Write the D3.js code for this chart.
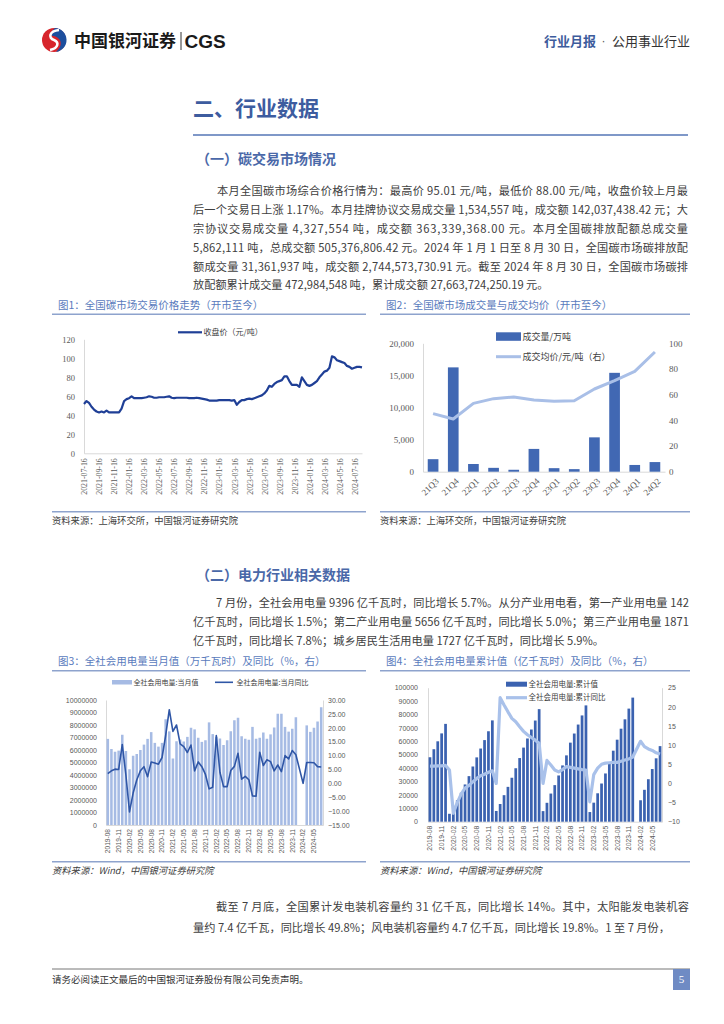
<!DOCTYPE html>
<html><head><meta charset="utf-8">
<script src="https://cdn.jsdelivr.net/npm/d3@7"></script>
<style>body{margin:0;background:#fff}</style>
</head><body>
<svg id="page" width="724" height="1024"></svg>
<script>
// ---------------- DATA ----------------
const para1 = [
 "本月全国碳市场综合价格行情为：最高价 95.01 元/吨，最低价 88.00 元/吨，收盘价较上月最",
 "后一个交易日上涨 1.17%。本月挂牌协议交易成交量 1,534,557 吨，成交额 142,037,438.42 元；大",
 "宗协议交易成交量 4,327,554 吨，成交额 363,339,368.00 元。本月全国碳排放配额总成交量",
 "5,862,111 吨，总成交额 505,376,806.42 元。2024 年 1 月 1 日至 8 月 30 日，全国碳市场碳排放配",
 "额成交量 31,361,937 吨，成交额 2,744,573,730.91 元。截至 2024 年 8 月 30 日，全国碳市场碳排",
 "放配额累计成交量 472,984,548 吨，累计成交额 27,663,724,250.19 元。"
];
const para2 = [
 "7 月份，全社会用电量 9396 亿千瓦时，同比增长 5.7%。从分产业用电看，第一产业用电量 142",
 "亿千瓦时，同比增长 1.5%；第二产业用电量 5656 亿千瓦时，同比增长 5.0%；第三产业用电量 1871",
 "亿千瓦时，同比增长 7.8%；城乡居民生活用电量 1727 亿千瓦时，同比增长 5.9%。"
];
const para3 = [
 "截至 7 月底，全国累计发电装机容量约 31 亿千瓦，同比增长 14%。其中，太阳能发电装机容",
 "量约 7.4 亿千瓦，同比增长 49.8%；风电装机容量约 4.7 亿千瓦，同比增长 19.8%。1 至 7 月份，"
];

// Chart 1: closing price (yuan/t), evenly spaced samples
const c1TickLabels = ["2021-07-16","2021-09-16","2021-11-16","2022-01-16","2022-03-16","2022-05-16","2022-07-16","2022-09-16","2022-11-16","2023-01-16","2023-03-16","2023-05-16","2023-07-16","2023-09-16","2023-11-16","2024-01-16","2024-03-16","2024-05-16","2024-07-16"];
const c1Price = [52,55,53,49,46,44,43,44,43,45,43,43, 43,43,43,47,55,57, 58,60,58,58,58,58, 58.5,59,60,59.5,58.5,58.5, 59,59,59,59.5,60,58.5, 58,58.5,58.5,58.5,58.5,58.5, 58,58,58,58.5,58,57.5, 57,56.5,55.5,55.5,55.5,55.5, 56,56,56,56,56,55.5, 56,51,54,56,56,57, 57.5,57,58,59,60,61, 63,66,71,70,73,75, 76,77,81,81,76,72, 72,72,70,80,76,72, 71,72,74,76,80,83, 86,87,90,102,101,98, 97,96,95,92,91,89, 90,91,91,90.5];
const c1YTicks = [0,20,40,60,80,100,120];

// Chart 2
const c2Quarters = ["21Q3","21Q4","22Q1","22Q2","22Q3","22Q4","23Q1","23Q2","23Q3","23Q4","24Q1","24Q2"];
const c2Volume = [1950,16250,1200,600,300,3550,550,400,5350,15400,1050,1500];
const c2AvgPrice = [45.2,41.0,53.2,56.9,58.2,55.8,54.8,55.3,64.4,70.9,78.2,93.2];
const c2LeftTicks = [0,5000,10000,15000,20000];
const c2RightTicks = [0,20,40,60,80,100];

// Charts 3 & 4: months
const months = ["2019-08","2019-09","2019-10","2019-11","2019-12",
 "2020-01","2020-02","2020-03","2020-04","2020-05","2020-06","2020-07","2020-08","2020-09","2020-10","2020-11","2020-12",
 "2021-01","2021-02","2021-03","2021-04","2021-05","2021-06","2021-07","2021-08","2021-09","2021-10","2021-11","2021-12",
 "2022-01","2022-02","2022-03","2022-04","2022-05","2022-06","2022-07","2022-08","2022-09","2022-10","2022-11","2022-12",
 "2023-01","2023-02","2023-03","2023-04","2023-05","2023-06","2023-07","2023-08","2023-09","2023-10","2023-11","2023-12",
 "2024-01","2024-02","2024-03","2024-04","2024-05","2024-06","2024-07"];
const monthTickLabels = ["2019-08","2019-11","2020-02","2020-05","2020-08","2020-11","2021-02","2021-05","2021-08","2021-11","2022-02","2022-05","2022-08","2022-11","2023-02","2023-05","2023-08","2023-11","2024-02","2024-05"];

const c3Value = [6890000,6080000,5860000,5950000,7220000,
 5920000,4460000,5540000,5680000,6000000,6430000,6890000,7430000,6570000,6270000,6570000,8460000,
 7490000,5320000,6700000,6840000,6680000,7050000,7780000,7650000,6980000,6650000,6780000,8210000,
 7270000,7050000,6920000,6400000,6780000,7500000,8380000,8580000,7100000,6900000,6820000,7850000,
 6900000,6980000,7400000,6900000,7250000,7800000,8900000,8900000,7850000,7470000,7700000,8620000,
 null,null,7970000,7450000,7780000,8280000,9420000];
const c3Yoy = [3.5,4.5,5.1,5.0,14.0,
 3.0,-10.3,-3.5,1.2,4.5,6.0,2.4,7.7,7.3,6.9,9.3,17.3,
 26.5,18.7,21.0,14.2,13.2,11.1,13.8,4.5,7.7,6.0,3.2,-2.0,
 -1.4,17.2,4.0,-1.2,-1.2,4.6,6.1,10.8,1.5,2.5,1.3,-4.5,
 -4.6,11.2,6.4,8.5,7.8,4.5,6.6,4.2,10.0,8.8,11.8,10.3,
 null,0.0,7.5,7.5,7.4,6.0,5.9];
const c3LeftTicks = [0,1000000,2000000,3000000,4000000,5000000,6000000,7000000,8000000,9000000,10000000];
const c3RightTicks = [-15,-10,-5,0,5,10,15,20,25,30];

const c4Value = [48100,54100,60000,65900,73000,
 5900,10400,16000,21600,27800,34000,41200,48000,54600,60900,67500,75600,
 8000,13200,19800,26000,32800,39900,47500,55300,62100,68800,75500,84000,
 7900,14100,21000,27300,34500,42000,49500,59000,65800,72500,79300,86800,
 7200,14200,21200,28500,36000,43400,53000,61200,69400,76400,84400,92600,
 null,16000,23800,31700,39300,47300,56400];
const c4Yoy = [4.5,4.5,4.6,4.6,4.7,
 3.5,-7.8,-5.0,-2.8,-1.2,-0.5,0.4,1.3,2.0,2.4,2.9,3.3,
 0.0,22.4,20.5,18.7,17.0,16.1,14.8,13.6,12.7,12.0,11.3,10.5,
 0.0,6.0,4.8,3.5,3.0,3.6,4.4,4.2,4.0,3.8,3.6,3.5,
 -4.8,2.3,4.0,5.0,5.3,5.4,5.5,5.5,5.8,6.1,6.4,6.9,
 null,11.0,9.6,9.0,8.6,8.0,7.7];
const c4LeftTicks = [0,10000,20000,30000,40000,50000,60000,70000,80000,90000,100000];
const c4RightTicks = [-10,-5,0,5,10,15,20,25];

// ---------------- DRAWING ----------------
const CJK = "'Noto Sans CJK SC','Noto Sans',sans-serif";
const SERIF = "'Liberation Serif','DejaVu Serif',serif";
const SANS = "'Liberation Sans','DejaVu Sans',sans-serif";
const svg = d3.select("#page");
svg.append("rect").attr("width",724).attr("height",1024).attr("fill","#fff");

function txt(g, x, y, s, size, fill, opts={}) {
  const t = g.append("text").attr("x",x).attr("y",y).attr("dy","0.35em")
    .attr("font-family", opts.family || CJK).attr("font-size", size)
    .attr("fill", fill).text(s);
  if (opts.weight) t.attr("font-weight", opts.weight);
  if (opts.anchor) t.attr("text-anchor", opts.anchor);
  if (opts.style) t.attr("font-style", opts.style);
  return t;
}

// Header logo
const logo = svg.append("g").attr("transform","translate(54,40)");
logo.append("circle").attr("r",12).attr("fill","#d7252c");
logo.append("path").attr("d","M1,-12 A12,12 0 0,1 2,11.9 C12,3 4,-4 -1,-4 C-4,-4 -3,-9 1,-12 Z").attr("fill","#1d4f9e");
logo.append("path").attr("d","M5,-10 C-5,-9 -6,-2 0,0 C5,2 5,8 -4,10").attr("fill","none").attr("stroke","#fff").attr("stroke-width",2.6);
txt(svg, 74, 41, "中国银河证券", 17, "#1a1a1a", {weight:700});
svg.append("line").attr("x1",181).attr("x2",181).attr("y1",32).attr("y2",50).attr("stroke","#333").attr("stroke-width",1);
txt(svg, 184.5, 41.5, "CGS", 19, "#1a1a1a", {weight:700, family:SANS});
txt(svg, 544, 41, "行业月报", 13, "#3d5c9c", {weight:700});
txt(svg, 603.5, 41, "·", 12, "#555", {anchor:"middle", family:SANS});
txt(svg, 612, 41, "公用事业行业", 13, "#333");

// Title
txt(svg, 193, 109, "二、行业数据", 21, "#3d5c9f", {weight:700});
svg.append("line").attr("x1",193).attr("x2",688).attr("y1",135).attr("y2",135).attr("stroke","#7f98c8").attr("stroke-width",2);

function paragraph(lines, x0, xIndent, xEnd, y0, dy, size) {
  lines.forEach((s,i)=>{
    const x = i===0 ? xIndent : x0;
    const t = txt(svg, x, y0 + i*dy, s, size, "#404040");
    if (i < lines.length-1) t.attr("textLength", xEnd - x).attr("lengthAdjust","spacing");
  });
}

txt(svg, 196, 159.5, "（一）碳交易市场情况", 14, "#4a68a8", {weight:700});
paragraph(para1, 193, 217, 688, 191.5, 18.8, 11.2);

txt(svg, 196, 575, "（二）电力行业相关数据", 14, "#4a68a8", {weight:700});
paragraph(para2, 193, 216, 689, 602.7, 19.2, 11.2);

paragraph(para3, 193, 216, 689, 907, 21.5, 11.2);

// Footer
svg.append("line").attr("x1",52).attr("x2",690).attr("y1",969).attr("y2",969).attr("stroke","#777").attr("stroke-width",1);
txt(svg, 52, 980, "请务必阅读正文最后的中国银河证券股份有限公司免责声明。", 9.5, "#333");
svg.append("rect").attr("x",673).attr("y",969).attr("width",17).attr("height",21).attr("fill","#6f8bc4");
txt(svg, 681.5, 979.5, "5", 11, "#fff", {anchor:"middle", family:SERIF});

// Chart frames
function frame(x1, x2, yTitle, yTop, yBot, title, source, italic) {
  txt(svg, x1+6, yTitle, title, 10.5, "#5a7bbd");
  svg.append("line").attr("x1",x1).attr("x2",x2).attr("y1",yTop).attr("y2",yTop).attr("stroke","#8ea3cd").attr("stroke-width",1.4);
  svg.append("line").attr("x1",x1).attr("x2",x2).attr("y1",yBot).attr("y2",yBot).attr("stroke","#8ea3cd").attr("stroke-width",1.4);
  txt(svg, x1, yBot+9.5, source, 9.3, "#404040", italic ? {style:"italic"} : {});
}
frame(52, 366, 305, 314.3, 511.7, "图1：全国碳市场交易价格走势（开市至今）", "资料来源：上海环交所，中国银河证券研究院");
frame(380, 690, 305, 314.3, 511.7, "图2：全国碳市场成交量与成交均价（开市至今）", "资料来源：上海环交所，中国银河证券研究院");
frame(52, 366, 661, 670.7, 861.7, "图3：全社会用电量当月值（万千瓦时）及同比（%，右）", "资料来源：Wind，中国银河证券研究院", true);
frame(380, 690, 661, 670.7, 861.7, "图4：全社会用电量累计值（亿千瓦时）及同比（%，右）", "资料来源：Wind，中国银河证券研究院", true);

function styleAxis(g, family, size, domainColor) {
  g.selectAll("text").attr("font-family", family).attr("font-size", size).attr("fill","#595959");
  g.select(".domain").attr("stroke", domainColor || "#d9d9d9");
  g.selectAll(".tick line").remove();
}

// ---- Chart 1 ----
{
  const x = d3.scaleLinear().domain([0, c1Price.length-1]).range([84, 362]);
  const y = d3.scaleLinear().domain([0,120]).range([453.3, 339.3]);
  const ga = svg.append("g").attr("transform","translate(84,0)")
    .call(d3.axisLeft(y).tickValues(c1YTicks).tickSize(0).tickPadding(9));
  styleAxis(ga, SERIF, 8.5);
  const gb = svg.append("g").attr("transform","translate(0,453.3)")
    .call(d3.axisBottom(x).tickValues(c1TickLabels.map((d,i)=>i*6)).tickFormat(v=>c1TickLabels[v/6]).tickSize(0));
  styleAxis(gb, SERIF, 7.8);
  gb.selectAll("text").attr("transform","rotate(-90)").attr("text-anchor","end").attr("x",-5).attr("y",0).attr("dy","0.35em");
  svg.append("path").datum(c1Price).attr("fill","none").attr("stroke","#1f3f96").attr("stroke-width",2.2)
    .attr("stroke-linejoin","round")
    .attr("d", d3.line().x((d,i)=>x(i)).y(d=>y(d)));
  svg.append("line").attr("x1",178).attr("x2",202).attr("y1",332.3).attr("y2",332.3).attr("stroke","#1f3f96").attr("stroke-width",2.2);
  txt(svg, 203.5, 332.3, "收盘价（元/吨）", 8, "#404040");
}

// ---- Chart 2 ----
{
  const x = d3.scaleBand().domain(c2Quarters).range([423, 665]).paddingInner(0.47).paddingOuter(0.235);
  const yL = d3.scaleLinear().domain([0,20000]).range([471.7, 343.3]);
  const yR = d3.scaleLinear().domain([0,100]).range([471.7, 343.3]);
  const ga = svg.append("g").attr("transform","translate(423,0)")
    .call(d3.axisLeft(yL).tickValues(c2LeftTicks).tickFormat(d3.format(",")).tickSize(0).tickPadding(9));
  styleAxis(ga, SERIF, 9);
  const gr = svg.append("g").attr("transform","translate(665,0)")
    .call(d3.axisRight(yR).tickValues(c2RightTicks).tickSize(0).tickPadding(4));
  styleAxis(gr, SERIF, 9, "none");
  const gb = svg.append("g").attr("transform","translate(0,471.7)")
    .call(d3.axisBottom(x).tickSize(0));
  styleAxis(gb, SERIF, 9);
  gb.selectAll("text").attr("transform","translate(4,8) rotate(-45)").attr("text-anchor","end").attr("x",0).attr("y",0).attr("dy","0.35em");
  svg.append("g").selectAll("rect").data(c2Quarters).join("rect")
    .attr("x", d=>x(d)).attr("width", x.bandwidth())
    .attr("y", (d,i)=>yL(c2Volume[i])).attr("height", (d,i)=>yL(0)-yL(c2Volume[i]))
    .attr("fill","#4168b3");
  svg.append("path").datum(c2AvgPrice).attr("fill","none").attr("stroke","#a9bfe7").attr("stroke-width",3)
    .attr("stroke-linejoin","round")
    .attr("d", d3.line().x((d,i)=>x(c2Quarters[i])+x.bandwidth()/2).y(d=>yR(d)));
  svg.append("rect").attr("x",496).attr("y",332.3).attr("width",25).attr("height",8.5).attr("fill","#4168b3");
  txt(svg, 522.5, 336.5, "成交量/万吨", 9, "#404040");
  svg.append("line").attr("x1",496).attr("x2",521).attr("y1",356.7).attr("y2",356.7).attr("stroke","#a9bfe7").attr("stroke-width",3);
  txt(svg, 522.5, 356.7, "成交均价/元/吨（右）", 9, "#404040");
}

// ---- Chart 3 ----
{
  const x = d3.scaleBand().domain(months).range([106, 323]).paddingInner(0.3).paddingOuter(0.15);
  const yL = d3.scaleLinear().domain([0,10000000]).range([825, 700]);
  const yR = d3.scaleLinear().domain([-15,30]).range([825, 700]);
  const ga = svg.append("g").attr("transform","translate(106,0)")
    .call(d3.axisLeft(yL).tickValues(c3LeftTicks).tickFormat(d3.format("d")).tickSize(0).tickPadding(9));
  styleAxis(ga, SANS, 7);
  const gr = svg.append("g").attr("transform","translate(323,0)")
    .call(d3.axisRight(yR).tickValues(c3RightTicks).tickFormat(d3.format(".2f")).tickSize(0).tickPadding(5));
  styleAxis(gr, SANS, 7);
  const gb = svg.append("g").attr("transform","translate(0,825)")
    .call(d3.axisBottom(x).tickValues(monthTickLabels).tickSize(0));
  styleAxis(gb, SANS, 6.6);
  gb.selectAll("text").attr("transform","rotate(-90)").attr("text-anchor","end").attr("x",-4).attr("y",0).attr("dy","0.35em");
  const idx = months.map((m,i)=>i).filter(i=>c3Value[i]!=null);
  svg.append("g").selectAll("rect").data(idx).join("rect")
    .attr("x", i=>x(months[i])).attr("width", x.bandwidth())
    .attr("y", i=>yL(c3Value[i])).attr("height", i=>yL(0)-yL(c3Value[i]))
    .attr("fill","#a6bbe4");
  const li = months.map((m,i)=>i).filter(i=>c3Yoy[i]!=null);
  svg.append("path").datum(li).attr("fill","none").attr("stroke","#2f56a6").attr("stroke-width",1.6)
    .attr("stroke-linejoin","round")
    .attr("d", d3.line().x(i=>x(months[i])+x.bandwidth()/2).y(i=>yR(c3Yoy[i])));
  svg.append("rect").attr("x",112).attr("y",680).attr("width",20).attr("height",4.5).attr("fill","#a6bbe4");
  txt(svg, 133.5, 682.3, "全社会用电量:当月值", 7, "#404040");
  svg.append("line").attr("x1",215).attr("x2",233).attr("y1",682.3).attr("y2",682.3).attr("stroke","#2f56a6").attr("stroke-width",1.6);
  txt(svg, 236.5, 682.3, "全社会用电量:当月同比", 7, "#404040");
}

// ---- Chart 4 ----
{
  const x = d3.scaleBand().domain(months).range([428, 662]).paddingInner(0.3).paddingOuter(0.15);
  const yL = d3.scaleLinear().domain([0,100000]).range([821.7, 687.7]);
  const yR = d3.scaleLinear().domain([-10,25]).range([821.7, 687.7]);
  const ga = svg.append("g").attr("transform","translate(428,0)")
    .call(d3.axisLeft(yL).tickValues(c4LeftTicks).tickFormat(d3.format("d")).tickSize(0).tickPadding(10));
  styleAxis(ga, SANS, 7);
  const gr = svg.append("g").attr("transform","translate(662,0)")
    .call(d3.axisRight(yR).tickValues(c4RightTicks).tickFormat(d3.format("d")).tickSize(0).tickPadding(6));
  styleAxis(gr, SANS, 7);
  const gb = svg.append("g").attr("transform","translate(0,821.7)")
    .call(d3.axisBottom(x).tickValues(monthTickLabels).tickSize(0));
  styleAxis(gb, SANS, 6.8);
  gb.selectAll("text").attr("transform","rotate(-90)").attr("text-anchor","end").attr("x",-4).attr("y",0).attr("dy","0.35em");
  const idx = months.map((m,i)=>i).filter(i=>c4Value[i]!=null);
  svg.append("g").selectAll("rect").data(idx).join("rect")
    .attr("x", i=>x(months[i])).attr("width", x.bandwidth())
    .attr("y", i=>yL(c4Value[i])).attr("height", i=>yL(0)-yL(c4Value[i]))
    .attr("fill","#3b62b0");
  const li = months.map((m,i)=>i).filter(i=>c4Yoy[i]!=null);
  svg.append("path").datum(li).attr("fill","none").attr("stroke","#a9c1ea").attr("stroke-width",3.2)
    .attr("stroke-linejoin","round")
    .attr("d", d3.line().x(i=>x(months[i])+x.bandwidth()/2).y(i=>yR(c4Yoy[i])));
  svg.append("rect").attr("x",506).attr("y",681.7).attr("width",21).attr("height",5).attr("fill","#3b62b0");
  txt(svg, 528.5, 684.3, "全社会用电量:累计值", 7.5, "#404040");
  svg.append("line").attr("x1",506).attr("x2",527).attr("y1",697.7).attr("y2",697.7).attr("stroke","#a9c1ea").attr("stroke-width",3.2);
  txt(svg, 528.5, 697.7, "全社会用电量:累计同比", 7.5, "#404040");
}
</script>
</body></html>
